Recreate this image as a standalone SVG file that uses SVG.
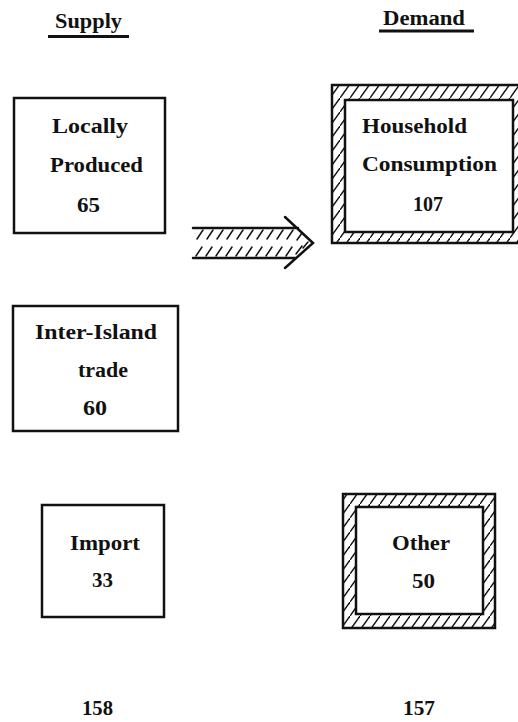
<svg xmlns="http://www.w3.org/2000/svg" width="518" height="722" viewBox="0 0 518 722">
  <style>
    .lbl { font-family: "Liberation Serif", "DejaVu Serif", serif; font-weight: bold; font-size: 20px; fill: #111; }
    .box { fill: #fff; stroke: #111; stroke-width: 2.5; }
    .frame { fill: none; stroke: #111; stroke-width: 2.5; }
    .edge { fill: none; stroke: #111; stroke-width: 2.5; stroke-linecap: round; }
    .uline { stroke: #111; stroke-width: 3; }
    .hatch { fill: url(#diag); fill-rule: evenodd; }
  </style>
  <defs>
    <!-- slanted single hatching used for the demand frames -->
    <pattern id="diag" patternUnits="userSpaceOnUse" width="10" height="14">
      <rect width="10" height="14" fill="#fff"/>
      <path d="M-1,15.4 L11,-1.4" stroke="#111" stroke-width="1.4"/>
    </pattern>
  </defs>

  <rect width="518" height="722" fill="#fff"/>

  <!-- column headings -->
  <g id="heading-supply">
    <text class="lbl" x="55" y="28" textLength="67" lengthAdjust="spacingAndGlyphs">Supply</text>
    <line class="uline" x1="48" y1="36.5" x2="129" y2="36.5"/>
  </g>
  <g id="heading-demand">
    <text class="lbl" x="383" y="25" textLength="82" lengthAdjust="spacingAndGlyphs">Demand</text>
    <line class="uline" x1="379" y1="31" x2="474" y2="31"/>
  </g>

  <!-- supply side -->
  <g id="locally-produced">
    <rect class="box" x="14" y="98" width="151" height="135"/>
    <text class="lbl" x="52" y="133" textLength="76" lengthAdjust="spacingAndGlyphs">Locally</text>
    <text class="lbl" x="50" y="172" textLength="93" lengthAdjust="spacingAndGlyphs">Produced</text>
    <text class="lbl" x="77" y="212" textLength="23" lengthAdjust="spacingAndGlyphs">65</text>
  </g>

  <g id="inter-island-trade">
    <rect class="box" x="13" y="306" width="165" height="125"/>
    <text class="lbl" x="35" y="339" textLength="122" lengthAdjust="spacingAndGlyphs">Inter-Island</text>
    <text class="lbl" x="78" y="377" textLength="50" lengthAdjust="spacingAndGlyphs">trade</text>
    <text class="lbl" x="83" y="415" textLength="24" lengthAdjust="spacingAndGlyphs">60</text>
  </g>

  <g id="import">
    <rect class="box" x="42" y="505" width="122" height="112"/>
    <text class="lbl" x="70" y="550" textLength="70" lengthAdjust="spacingAndGlyphs">Import</text>
    <text class="lbl" x="92" y="587" textLength="21" lengthAdjust="spacingAndGlyphs">33</text>
  </g>

  <g id="supply-total">
    <text class="lbl" x="82" y="715" textLength="31" lengthAdjust="spacingAndGlyphs">158</text>
  </g>

  <!-- demand side: hatched frames -->
  <g id="household-consumption">
    <path class="hatch" d="M332,85 H522 V243 H332 Z M345,100 V232 H513 V100 Z"/>
    <rect class="frame" x="332" y="85" width="190" height="158"/>
    <rect class="box" x="345" y="100" width="168" height="132"/>
    <text class="lbl" x="362" y="133" textLength="105" lengthAdjust="spacingAndGlyphs">Household</text>
    <text class="lbl" x="362" y="171" textLength="135" lengthAdjust="spacingAndGlyphs">Consumption</text>
    <text class="lbl" x="413" y="211" textLength="30" lengthAdjust="spacingAndGlyphs">107</text>
  </g>

  <g id="other">
    <path class="hatch" d="M343,494 H495 V628 H343 Z M356,507 V614 H483 V507 Z"/>
    <rect class="frame" x="343" y="494" width="152" height="134"/>
    <rect class="box" x="356" y="507" width="127" height="107"/>
    <text class="lbl" x="392" y="550" textLength="58" lengthAdjust="spacingAndGlyphs">Other</text>
    <text class="lbl" x="412" y="588" textLength="23" lengthAdjust="spacingAndGlyphs">50</text>
  </g>

  <g id="demand-total">
    <text class="lbl" x="403" y="715" textLength="32" lengthAdjust="spacingAndGlyphs">157</text>
  </g>

  <!-- hatched flow arrow from supply to demand -->
  <g id="connectors">
    <g id="supply-to-demand">
      <path class="edge" d="M193,228 H298 M193,258 H295 M285,217 L313,243 L285,268"/>
      <path d="M197,239 l6,-9 M207,239 l6,-9 M217,239 l6,-9 M227,239 l6,-9 M237,239 l6,-9 M247,239 l6,-9 M257,239 l6,-9 M267,239 l6,-9 M277,239 l6,-9 M287,239 l6,-9 M297,240 l5,-7
               M196,256 l6,-9 M206,256 l6,-9 M216,256 l6,-9 M226,256 l6,-9 M236,256 l6,-9 M246,256 l6,-9 M256,256 l6,-9 M266,256 l6,-9 M276,256 l6,-9 M286,256 l6,-9 M296,254 l6,-8 M303,248 l5,-6"
            fill="none" stroke="#111" stroke-width="1.5" stroke-linecap="round"/>
    </g>
  </g>
</svg>
